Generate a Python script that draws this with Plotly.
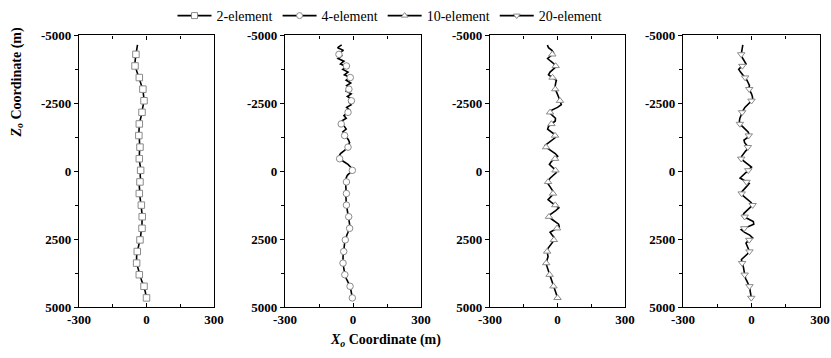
import plotly.graph_objects as go

# depth stations (m) along the line
DEPTH = [-4650,-4550,-4450,-4350,-4250,-4150,-4050,-3950,-3850,-3750,
         -3650,-3550,-3450,-3350,-3250,-3150,-3050,-2950,-2850,-2750,
         -2650,-2550,-2450,-2350,-2250,-2150,-2050,-1950,-1850,-1750,
         -1650,-1550,-1450,-1350,-1250,-1150,-1050,-950,-850,-750,
         -650,-550,-450,-350,-250,-150,-50,50,150,250,
         350,450,550,650,750,850,950,1050,1150,1250,
         1350,1450,1550,1650,1750,1850,1950,2050,2150,2250,
         2350,2450,2550,2650,2750,2850,2950,3050,3150,3250,
         3350,3450,3550,3650,3750,3850,3950,4050,4150,4250,
         4350,4450,4550,4650]

X_2EL = [-40,-43,-45,-46,-48,-50,-49,-52,-50,-46,
         -42,-36,-33,-28,-25,-20,-18,-14,-14,-11,
         -11,-12,-15,-16,-19,-20,-24,-26,-29,-32,
         -33,-31,-35,-34,-32,-31,-30,-28,-30,-31,
         -30,-32,-33,-30,-29,-27,-26,-28,-28,-27,
         -29,-30,-32,-31,-32,-30,-29,-27,-25,-23,
         -22,-20,-20,-19,-18,-20,-20,-21,-21,-23,
         -25,-27,-30,-33,-37,-39,-41,-43,-44,-45,
         -44,-42,-39,-36,-33,-30,-26,-21,-15,-11,
         -8,-5,-3,0]

X_4EL = [-50,-68,-42,-64,-50,-66,-40,-55,-28,-45,
         -22,-38,-12,-30,-10,-28,-15,-30,-8,-25,
         -5,-18,-8,-28,-15,-25,-40,-30,-50,-52,
         -38,-30,-45,-38,-28,-20,-15,-22,-25,-40,
         -55,-62,-58,-40,-22,-10,-3,-12,-25,-30,
         -28,-29,-32,-30,-28,-29,-31,-32,-30,-29,
         -27,-24,-21,-19,-18,-17,-15,-15,-17,-22,
         -27,-32,-35,-37,-39,-40,-41,-43,-44,-44,
         -44,-43,-41,-39,-37,-34,-30,-24,-18,-13,
         -10,-7,-5,-3]

X_10EL = [-45,-40,-25,-17,-30,-44,-30,-15,-6,-20,
          -33,-40,-22,-5,-8,-11,-12,-6,0,5,
          9,13,17,0,-25,-35,-22,-9,-10,-26,
          -40,-44,-28,-12,-8,-25,-42,-55,-45,-28,
          -10,1,-12,-28,-36,-22,-10,-5,-20,-32,
          -42,-43,-35,-27,-19,-20,-33,-42,-27,-10,
          6,-8,-28,-42,-28,-10,5,8,-12,-33,
          -24,-14,-16,-25,-35,-43,-46,-44,-42,-46,
          -50,-49,-44,-40,-37,-33,-29,-25,-22,-18,
          -14,-10,-6,0]

X_20EL = [-38,-40,-43,-45,-46,-38,-30,-24,-45,-56,
          -48,-38,-28,-20,-14,-9,-12,-5,0,4,
          5,-5,-18,-29,-36,-42,-47,-51,-53,-52,
          -40,-26,-15,-10,-15,-33,-30,-20,-13,-25,
          -35,-43,-46,-30,-12,0,-12,-25,-38,-50,
          -30,-10,-20,-32,-42,-44,-30,-15,-2,5,
          -8,-22,-33,-39,-15,8,10,-18,-45,-30,
          -8,5,-14,-24,-19,-13,-9,-18,-32,-44,
          -42,-37,-35,-33,-31,-30,-26,-20,-14,-9,
          -7,-5,-4,-1]

# marker stations
MARK_Z = [-4303,-3876,-3449,-3022,-2595,-2168,-1741,-1314,-887,-460,-33,
          394,821,1248,1675,2102,2529,2956,3383,3810,4237,4664]
MK_2EL = [-47,-51,-32,-16,-11,-20,-32,-34,-29,-32,-26,-29,-32,-23,-19,-20,-29,-41,-44,-32,-11,0]
MK_4EL = [-62,-29,-12,-18,-7,-22,-52,-37,-22,-59,-3,-29,-29,-29,-19,-15,-34,-41,-44,-36,-13,-3]
MK_10EL = [-23,-8,-22,-10,11,-33,-27,-11,-51,-11,-9,-42,-20,-10,-38,-2,-16,-46,-50,-35,-18,0]
MK_20EL = [-45,-40,-28,-10,0,-41,-51,-12,-16,-45,-14,-22,-43,5,-30,-32,-10,-9,-41,-30,-9,-1]

NAMES = ["2-element", "4-element", "10-element", "20-element"]
SYMBOLS = ["square", "circle", "triangle-up", "triangle-down"]
LINES = [X_2EL, X_4EL, X_10EL, X_20EL]
MARKS = [MK_2EL, MK_4EL, MK_10EL, MK_20EL]

X_TICKS = [-300, 0, 300]
X_TICKTEXT = ["-300", "0", "300"]
Z_TICKS = [-5000, -2500, 0, 2500, 5000]
Z_TICKTEXT = ["-5000", "-2500", "0", "2500", "5000"]

W, H = 831, 358
PANEL_PX = [(79, 214), (285, 421), (490, 625), (683, 820)]
TOP_PX, BOT_PX = 29, 306

FONT = "Liberation Serif"
MK_COLOR = "#8a8a8a"

fig = go.Figure()
for i in range(4):
    xa = "x" if i == 0 else f"x{i+1}"
    ya = "y" if i == 0 else f"y{i+1}"
    fig.add_trace(go.Scatter(x=LINES[i], y=DEPTH, mode="lines",
                             line=dict(color="black", width=1.6),
                             xaxis=xa, yaxis=ya, showlegend=False, hoverinfo="skip"))
    fig.add_trace(go.Scatter(x=MARKS[i], y=MARK_Z, mode="markers",
                             marker=dict(symbol=SYMBOLS[i], size=6.5, color="white",
                                         line=dict(color=MK_COLOR, width=1)),
                             xaxis=xa, yaxis=ya, showlegend=False, hoverinfo="skip"))
    # legend entry
    fig.add_trace(go.Scatter(x=[None], y=[None], mode="lines+markers", name=NAMES[i],
                             line=dict(color="black", width=1.6),
                             marker=dict(symbol=SYMBOLS[i], size=6, color="white",
                                         line=dict(color=MK_COLOR, width=1)),
                             xaxis=xa, yaxis=ya, showlegend=True))

layout = dict(
    width=W, height=H,
    margin=dict(l=0, r=0, t=0, b=0, pad=0),
    paper_bgcolor="white", plot_bgcolor="white",
    font=dict(family=FONT, color="black"),
    legend=dict(orientation="h", x=390 / W, xanchor="center", y=1 - 9 / H, yanchor="middle",
                font=dict(family=FONT, size=14, color="black"),
                itemwidth=34, tracegroupgap=0, bgcolor="rgba(0,0,0,0)"),
)
for i, (l, r) in enumerate(PANEL_PX):
    xk = "xaxis" if i == 0 else f"xaxis{i+1}"
    yk = "yaxis" if i == 0 else f"yaxis{i+1}"
    ya_ref = "y" if i == 0 else f"y{i+1}"
    xa_ref = "x" if i == 0 else f"x{i+1}"
    layout[xk] = dict(domain=[l / W, r / W], range=[-300, 300], anchor=ya_ref,
                      automargin=False,
                      tickvals=X_TICKS, ticktext=X_TICKTEXT, ticks="inside", ticklen=4,
                      tickcolor="black", tickwidth=1.2,
                      minor=dict(dtick=150, tick0=0, ticks="inside", ticklen=3, tickcolor="black"),
                      showline=True, linecolor="black", linewidth=1.3, mirror="ticks",
                      showgrid=False, zeroline=False,
                      tickfont=dict(family=FONT, size=13, weight="bold", color="black"))
    layout[yk] = dict(domain=[1 - BOT_PX / H, 1 - TOP_PX / H], range=[5000, -5000], anchor=xa_ref,
                      automargin=False,
                      tickvals=Z_TICKS, ticktext=Z_TICKTEXT, ticks="outside", ticklen=4,
                      tickcolor="black", tickwidth=1.2,
                      minor=dict(dtick=1250, tick0=0, ticks="outside", ticklen=3, tickcolor="black"),
                      showline=True, linecolor="black", linewidth=1.3, mirror=True,
                      showgrid=False, zeroline=False,
                      tickfont=dict(family=FONT, size=13, weight="bold", color="black"))
fig.update_layout(**layout)

fig.add_annotation(text="<b><i>Z</i><sub><i>o</i></sub> Coordinate (m)</b>",
                   xref="paper", yref="paper", x=17 / W, y=1 - 77 / H,
                   textangle=-90, showarrow=False, xanchor="center", yanchor="middle",
                   font=dict(family=FONT, size=14, color="black"))
fig.add_annotation(text="<b><i>X</i><sub><i>o</i></sub> Coordinate (m)</b>",
                   xref="paper", yref="paper", x=385 / W, y=1 - 340 / H,
                   showarrow=False, xanchor="center", yanchor="middle",
                   font=dict(family=FONT, size=14, color="black"))

fig.write_html("out.html")
